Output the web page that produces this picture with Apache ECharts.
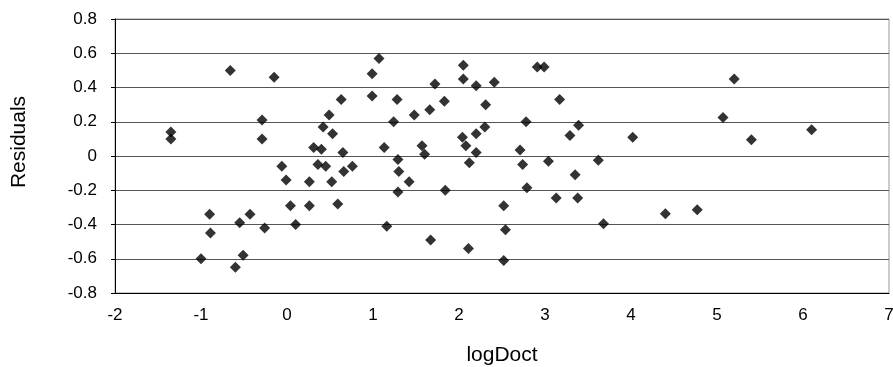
<!DOCTYPE html>
<html>
<head>
<meta charset="utf-8">
<script src="https://cdn.jsdelivr.net/npm/echarts@6/dist/echarts.min.js"></script>
<style>
  html, body { margin: 0; padding: 0; background: #fff; }
  #chart { width: 893px; height: 367px; }
</style>
</head>
<body>
<div id="chart"></div>
<script>
// logDoct values (x)
const logDoct = [
  -1.35, -1.35, -0.66, -0.15, -0.29, -0.29, -0.06, -0.01, 0.04, 0.10,
  -0.90, -0.89, -1.00, -0.60, -0.51, -0.55, -0.43, -0.26,
  0.26, 0.26, 0.31, 0.40, 0.36, 0.45, 0.42, 0.49, 0.53, 0.52,
  0.59, 0.63, 0.65, 0.66, 0.76, 0.99, 0.99, 1.07, 1.13, 1.16,
  1.24, 1.28, 1.29, 1.30, 1.29, 1.42, 1.48, 1.57, 1.60, 1.66,
  1.67, 1.72, 1.83, 1.84,
  2.05, 2.05, 2.20, 2.41, 2.91, 2.99, 2.31, 2.78, 2.30, 2.20,
  2.04, 2.08, 2.20, 2.12, 2.71, 2.74, 3.04, 2.79, 2.52, 2.54,
  2.11, 2.52,
  3.17, 3.39, 3.29, 4.02, 3.62, 3.35, 3.13, 3.38, 3.68, 4.40,
  4.77, 5.07, 5.20, 5.40, 6.10
];
// residuals (y)
const residuals = [
  0.14, 0.10, 0.50, 0.46, 0.21, 0.10, -0.06, -0.14, -0.29, -0.40,
  -0.34, -0.45, -0.60, -0.65, -0.58, -0.39, -0.34, -0.42,
  -0.15, -0.29, 0.05, 0.04, -0.05, -0.06, 0.17, 0.24, 0.13, -0.15,
  -0.28, 0.33, 0.02, -0.09, -0.06, 0.48, 0.35, 0.57, 0.05, -0.41,
  0.20, 0.33, -0.02, -0.09, -0.21, -0.15, 0.24, 0.06, 0.01, 0.27,
  -0.49, 0.42, 0.32, -0.20,
  0.53, 0.45, 0.41, 0.43, 0.52, 0.52, 0.30, 0.20, 0.17, 0.13,
  0.11, 0.06, 0.02, -0.04, 0.035, -0.05, -0.03, -0.185, -0.29, -0.43,
  -0.54, -0.61,
  0.33, 0.18, 0.12, 0.11, -0.025, -0.11, -0.245, -0.245, -0.395, -0.337,
  -0.314, 0.225, 0.45, 0.095, 0.154
];

const points = logDoct.map((x, i) => [x, residuals[i]]);

const chart = echarts.init(document.getElementById("chart"));

const font = "Liberation Sans, Arial, sans-serif";

chart.setOption({
  animation: false,
  backgroundColor: "#fff",
  grid: {
    left: 115,
    right: 4,
    top: 19,
    bottom: 74,
    outerBoundsMode: "none",
    show: true,
    borderColor: "#999",
    borderWidth: 1,
  },
  xAxis: {
    type: "value",
    min: -2,
    max: 7,
    interval: 1,
    name: "logDoct",
    nameLocation: "middle",
    nameGap: 52,
    nameTextStyle: { fontFamily: font, fontSize: 21, color: "#000" },
    axisLine: { show: true, onZero: false, lineStyle: { color: "#000", width: 1 } },
    axisTick: { show: false },
    axisLabel: { margin: 14, fontFamily: font, fontSize: 17, color: "#000" },
    splitLine: { show: false },
  },
  yAxis: {
    type: "value",
    min: -0.8,
    max: 0.8,
    interval: 0.2,
    axisLine: { show: true, onZero: false, lineStyle: { color: "#000", width: 1 } },
    axisTick: { show: true, length: 4, inside: false, lineStyle: { color: "#000" } },
    axisLabel: {
      margin: 18,
      fontFamily: font,
      fontSize: 17,
      color: "#000",
      formatter: (v) => String(Number(v.toFixed(1))),
    },
    splitLine: { show: true, lineStyle: { color: "#555", width: 1 } },
  },
  graphic: [
    {
      type: "text",
      x: 19,
      y: 142,
      rotation: Math.PI / 2,
      style: {
        text: "Residuals",
        fontFamily: font,
        fontSize: 21,
        fill: "#000",
        textAlign: "center",
        textVerticalAlign: "middle",
      },
    },
  ],
  series: [
    {
      type: "scatter",
      data: points,
      symbol: "diamond",
      symbolSize: 11,
      itemStyle: { color: "#000" },
    },
  ],
});
</script>
</body>
</html>
